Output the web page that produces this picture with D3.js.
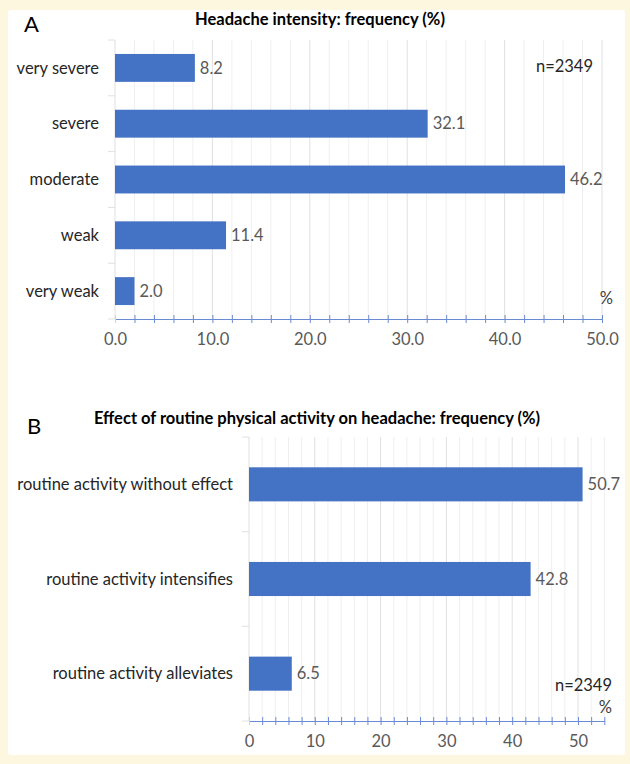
<!DOCTYPE html>
<html>
<head>
<meta charset="utf-8">
<script src="https://cdn.jsdelivr.net/npm/d3@7"></script>
<style>
  html, body { margin: 0; padding: 0; background: #fef7df; }
  svg { display: block; }
  text { font-family: Lato, "Open Sans", sans-serif; }
</style>
</head>
<body>
<svg id="chart" width="630" height="764"></svg>
<script>
// ---------- data ----------
const intensityCategories = ["very severe", "severe", "moderate", "weak", "very weak"];
const intensityValues = [8.2, 32.1, 46.2, 11.4, 2.0];
const intensityTicks = [0, 10, 20, 30, 40, 50];

const activityCategories = ["routine activity without effect", "routine activity intensifies", "routine activity alleviates"];
const activityValues = [50.7, 42.8, 6.5];
const activityTicks = [0, 10, 20, 30, 40, 50];

const sampleLabel = "n=2349";
const titleA = "Headache intensity: frequency (%)";
const titleB = "Effect of routine physical activity on headache: frequency (%)";

// ---------- drawing ----------
const svg = d3.select("#chart");
const BAR = "#4472c4";
const AXIS = "#6a8bd3";
const FS = 16.5;

svg.append("rect").attr("x", 8).attr("y", 10).attr("width", 617).attr("height", 745)
  .attr("rx", 3).attr("fill", "#ffffff");

function panel(opt) {
  const g = svg.append("g");
  const x = d3.scaleLinear().domain([0, opt.max]).range([opt.x0, opt.x1]);
  const y = d3.scaleBand().domain(opt.cats).range([opt.top, opt.bottom])
    .paddingInner(opt.padIn).paddingOuter(opt.padOut);

  // minor grid every 2 units
  const minor = d3.range(0, opt.max + 0.001, 2);
  g.append("g").selectAll("line").data(minor).join("line")
    .attr("x1", d => x(d)).attr("x2", d => x(d))
    .attr("y1", opt.top).attr("y2", opt.bottom)
    .attr("stroke", d => d % 10 === 0 ? "#e0e0e0" : "#efefef")
    .attr("stroke-width", 1);

  // category boundary ticks on left
  const bounds = d3.range(0, opt.cats.length + 1).map(i => opt.top + i * (opt.bottom - opt.top) / opt.cats.length);
  g.append("g").selectAll("line").data(bounds).join("line")
    .attr("x1", opt.x0 - 7).attr("x2", opt.x0)
    .attr("y1", d => d).attr("y2", d => d)
    .attr("stroke", "#e0e0e0");

  // bars
  g.append("g").selectAll("rect").data(opt.vals).join("rect")
    .attr("x", x(0)).attr("y", (d, i) => y(opt.cats[i]))
    .attr("width", d => x(d) - x(0)).attr("height", y.bandwidth())
    .attr("fill", BAR);

  // value labels
  g.append("g").selectAll("text").data(opt.vals).join("text")
    .attr("x", d => x(d) + 5).attr("y", (d, i) => y(opt.cats[i]) + y.bandwidth() / 2)
    .attr("dy", "0.35em").attr("font-size", FS).attr("fill", "#595959")
    .text(d => d.toFixed(1));

  // category labels
  g.append("g").selectAll("text").data(opt.cats).join("text")
    .attr("x", opt.labelX).attr("y", d => y(d) + y.bandwidth() / 2)
    .attr("dy", "0.35em").attr("text-anchor", "end")
    .attr("font-size", FS).attr("fill", "#262626")
    .text(d => d);

  // x axis
  const axis = d3.axisBottom(x).tickValues(minor).tickSize(0).tickFormat("");
  const ag = g.append("g").attr("transform", `translate(0,${opt.bottom})`).call(axis);
  ag.select(".domain").attr("stroke", AXIS).attr("stroke-width", 1.2);
  ag.selectAll(".tick line").attr("y1", -4).attr("y2", 4).attr("stroke", AXIS);
  ag.selectAll(".tick").filter(d => d === 0).select("line").attr("stroke", "#c9d3ea");

  const lg = d3.axisBottom(x).tickValues(opt.ticks).tickSize(0).tickFormat(opt.fmt);
  const lgg = g.append("g").attr("transform", `translate(0,${opt.bottom})`).call(lg);
  lgg.select(".domain").remove();
  lgg.selectAll(".tick text").attr("font-size", FS).attr("fill", "#595959")
    .attr("font-family", "Lato, 'Open Sans', sans-serif").attr("dy", "1.42em");

  return { x, y, g };
}

// Panel A
panel({
  cats: intensityCategories, vals: intensityValues, ticks: intensityTicks, max: 50,
  x0: 115, x1: 602, top: 40, bottom: 319, padIn: 0.5, padOut: 0.25,
  labelX: 99, fmt: d3.format(".1f")
});
svg.append("text").attr("x", 320).attr("y", 25).attr("text-anchor", "middle")
  .attr("font-size", FS).attr("font-weight", "bold").attr("fill", "#000").text(titleA);
svg.append("text").attr("x", 24).attr("y", 32).attr("font-size", 22).attr("fill", "#000").text("A");
svg.append("text").attr("x", 593).attr("y", 72).attr("text-anchor", "end")
  .attr("font-size", FS).attr("fill", "#262626").text(sampleLabel);
svg.append("text").attr("x", 613).attr("y", 304).attr("text-anchor", "end")
  .attr("font-size", FS).attr("fill", "#404040").text("%");

// Panel B
panel({
  cats: activityCategories, vals: activityValues, ticks: activityTicks, max: 54,
  x0: 249, x1: 604.3, top: 437, bottom: 721, padIn: 0.64, padOut: 0.32,
  labelX: 233, fmt: d3.format("d")
});
svg.append("text").attr("x", 317).attr("y", 424).attr("text-anchor", "middle")
  .attr("font-size", FS).attr("font-weight", "bold").attr("fill", "#000").text(titleB);
svg.append("text").attr("x", 27).attr("y", 434).attr("font-size", 22).attr("fill", "#000").text("B");
svg.append("text").attr("x", 612).attr("y", 691).attr("text-anchor", "end")
  .attr("font-size", FS).attr("fill", "#262626").text(sampleLabel);
svg.append("text").attr("x", 612).attr("y", 713).attr("text-anchor", "end")
  .attr("font-size", FS).attr("fill", "#404040").text("%");
</script>
</body>
</html>
